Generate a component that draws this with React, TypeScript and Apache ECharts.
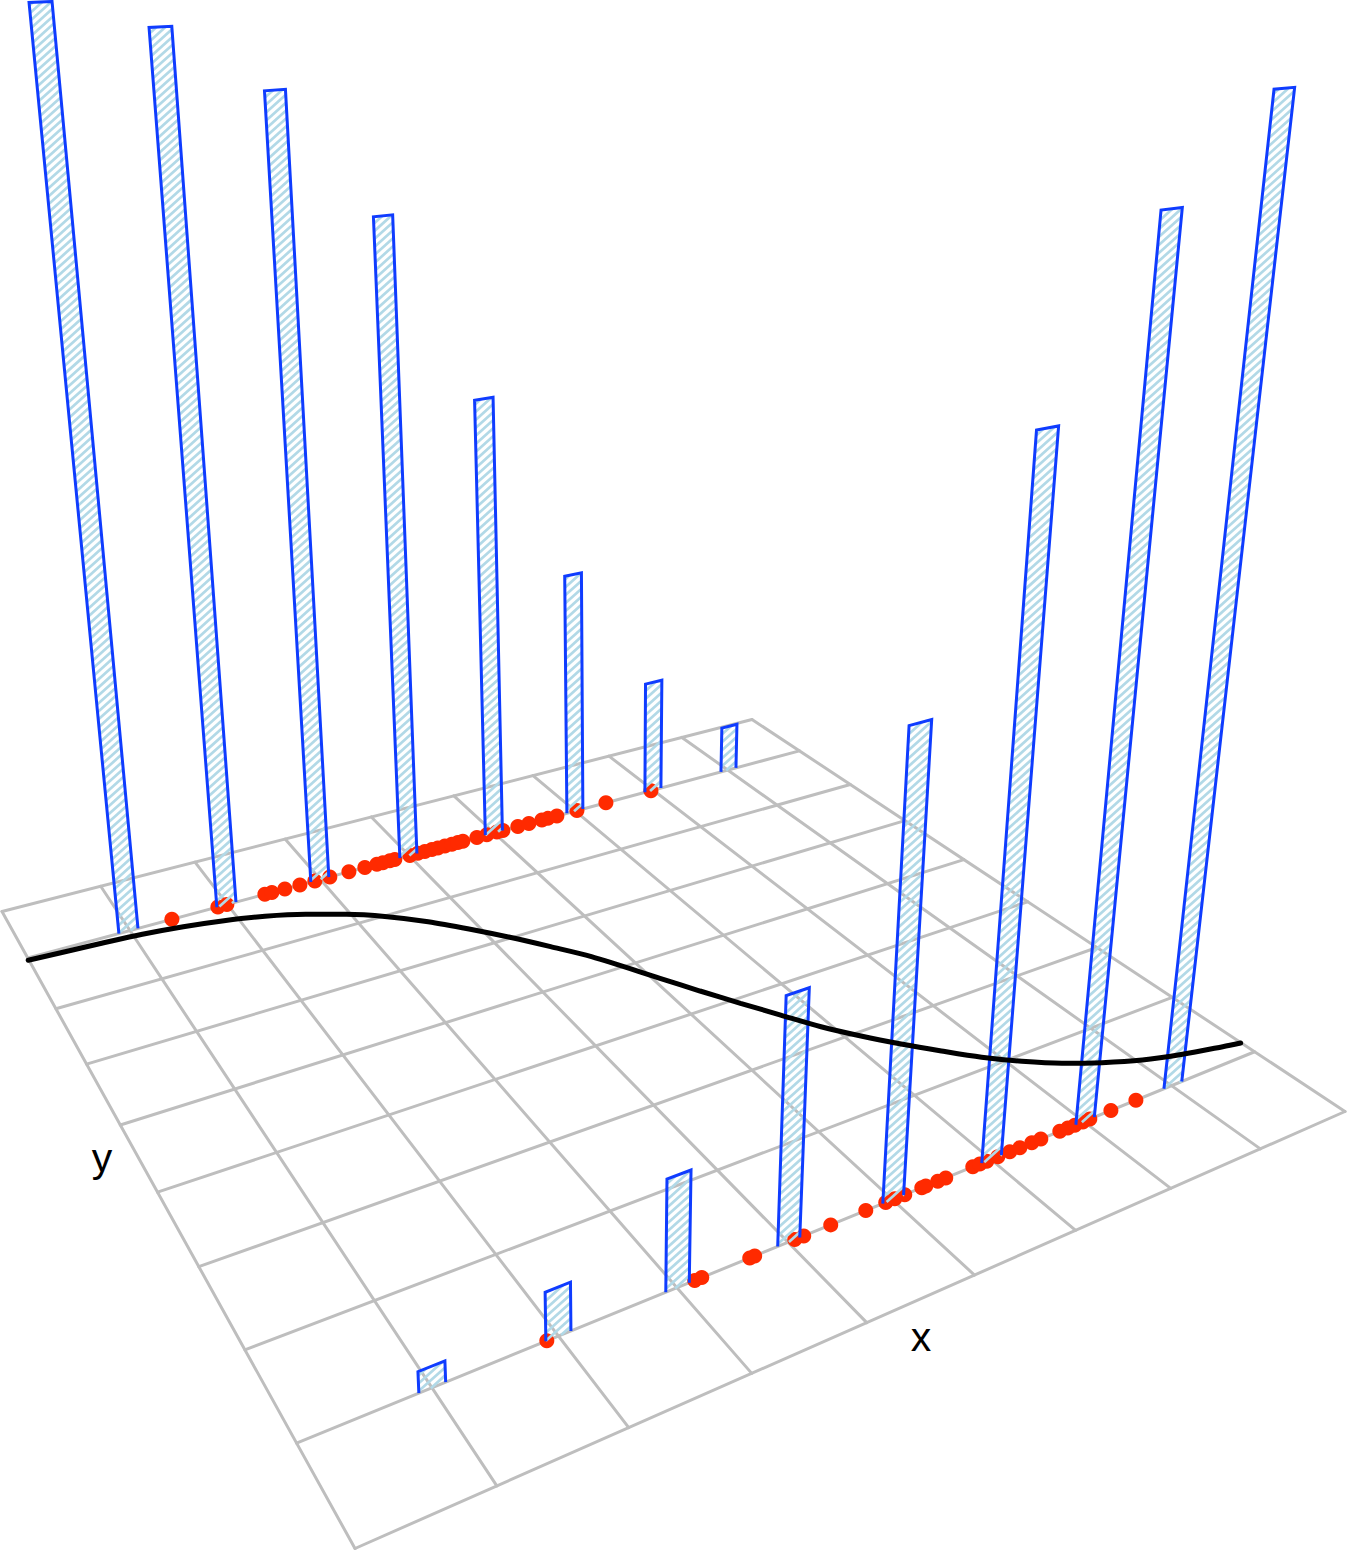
import React, { useEffect, useRef } from "react";
import * as echarts from "echarts";

// ---- data, in floor units (0..9) and bar heights ----
const gridTicks = [0, 1, 2, 3, 4, 5, 6, 7, 8, 9];
const backRow = 8;
const frontRow = 1;
const backBarLeft = [0.889, 1.889, 2.895, 3.893, 4.895, 5.894, 6.892, 7.907];
const backBarRight = [1.08, 2.09, 3.093, 4.089, 5.1, 6.095, 7.102, 8.112];
const backBarHeight = [0.954, 0.927, 0.8625, 0.7305, 0.523, 0.3005, 0.143, 0.0595];
const frontBarLeft = [0.9, 1.897, 2.903, 3.904, 4.904, 5.904, 6.912, 7.911];
const frontBarRight = [1.105, 2.102, 3.108, 4.109, 5.109, 6.109, 7.117, 8.12];
const frontBarHeight = [0.02, 0.0466, 0.1086, 0.2396, 0.4467, 0.6686, 0.8265, 0.91];
const backDots = [1.424, 1.9, 1.994, 2.397, 2.472, 2.612, 2.775, 2.939, 3.104, 3.316, 3.495, 3.631, 3.699, 3.778, 3.835, 4.008, 4.1, 4.181, 4.263, 4.333, 4.415, 4.497, 4.568, 4.627, 4.794, 4.913, 5.034, 5.106, 5.288, 5.423, 5.583, 5.657, 5.769, 6.02, 6.388, 6.971];
const frontDots = [1.905, 3.156, 3.218, 3.648, 3.693, 4.062, 4.146, 4.401, 4.738, 4.933, 5.022, 5.121, 5.291, 5.331, 5.452, 5.533, 5.811, 5.883, 5.956, 6.072, 6.198, 6.305, 6.433, 6.53, 6.736, 6.824, 6.901, 6.989, 7.067, 7.303, 7.587];
const curveX = [-0.007, 0.3, 0.69, 1.084, 1.477, 1.863, 2.245, 2.61, 2.963, 3.296, 3.608, 3.897, 4.174, 4.437, 4.691, 5.064, 5.275, 5.488, 5.7, 5.909, 6.134, 6.368, 6.611, 6.857, 7.123, 7.408, 7.718, 8.052, 8.42, 8.814, 8.995];
const curveY = [7.957, 7.936, 7.907, 7.871, 7.807, 7.715, 7.591, 7.423, 7.219, 6.972, 6.681, 6.354, 6.014, 5.663, 5.307, 4.653, 4.281, 3.921, 3.577, 3.24, 2.941, 2.662, 2.397, 2.145, 1.921, 1.722, 1.553, 1.405, 1.291, 1.197, 1.158];

// ---- camera: floor corners on the page and the vertical vanishing point ----
const [x0, y0, x1, y1, x2, y2, x3, y3] = [355, 1548.5, 1345, 1111.5, 752, 719.5, 2, 911.5];
const VP = [615, 6073];
const K = -0.25;
const dx1 = x1 - x2, dx2 = x3 - x2, sx = x0 - x1 + x2 - x3;
const dy1 = y1 - y2, dy2 = y3 - y2, sy = y0 - y1 + y2 - y3;
const det = dx1 * dy2 - dx2 * dy1;
const g = (sx * dy2 - dx2 * sy) / det, h = (dx1 * sy - sx * dy1) / det;
const a = x1 - x0 + g * x1, b = x3 - x0 + h * x3, d = y1 - y0 + g * y1, e = y3 - y0 + h * y3;

function project(u: number, v: number, z = 0): [number, number] {
  const s = u / 9, t = v / 9;
  const X = a * s + b * t + x0 + z * K * VP[0];
  const Y = d * s + e * t + y0 + z * K * VP[1];
  const W = g * s + h * t + 1 + z * K;
  return [X / W, Y / W];
}

const BLUE = "#0f3cff", RED = "#ff2a00", GREY = "#bebebe", HATCH = "#b2d9e7";
const HATCH_SLOPE = 0.9, HATCH_PERIOD = 8, HATCH_WIDTH = 2.7;

function hatchSegments(p: number[][]) {
  const cs = p.map(q => q[1] + HATCH_SLOPE * q[0]);
  const segs: number[][][] = [];
  const lo = Math.ceil(Math.min(...cs) / HATCH_PERIOD), hi = Math.floor(Math.max(...cs) / HATCH_PERIOD);
  for (let n = lo; n <= hi; n++) {
    const c = n * HATCH_PERIOD, hits: number[][] = [];
    for (let i = 0; i < p.length; i++) {
      const A = p[i], B = p[(i + 1) % p.length], ca = cs[i], cb = cs[(i + 1) % p.length];
      if ((ca - c) * (cb - c) <= 0 && ca !== cb) {
        const k = (c - ca) / (cb - ca);
        hits.push([A[0] + k * (B[0] - A[0]), A[1] + k * (B[1] - A[1])]);
      }
    }
    if (hits.length >= 2) segs.push([hits[0], hits[hits.length - 1]]);
  }
  return segs;
}

const barSeries = (row: number, left: number[], right: number[], height: number[]) => ({
  type: "custom", coordinateSystem: "cartesian2d", silent: true, clip: false,
  data: left.map((l, i) => [l, right[i], height[i]]),
  renderItem: (_p: any, api: any) => {
    const l = api.value(0), r = api.value(1), z = api.value(2);
    const pts = [project(l, row), project(l, row, z), project(r, row, z), project(r, row)].map(q => api.coord(q));
    const children: any[] = hatchSegments(pts).map(s => ({
      type: "line", shape: { x1: s[0][0], y1: s[0][1], x2: s[1][0], y2: s[1][1] },
      style: { stroke: HATCH, lineWidth: HATCH_WIDTH, fill: null },
    }));
    children.push({ type: "polyline", shape: { points: pts }, style: { stroke: BLUE, lineWidth: 3, fill: null, lineJoin: "miter" } });
    return { type: "group", children };
  },
});

const dotSeries = (row: number, xs: number[]) => ({
  type: "custom", coordinateSystem: "cartesian2d", silent: true, clip: false,
  data: xs.map(x => [x]),
  renderItem: (_p: any, api: any) => {
    const c = api.coord(project(api.value(0), row));
    return { type: "circle", shape: { cx: c[0], cy: c[1], r: 7.5 }, style: { fill: RED, stroke: null } };
  },
});

const floorSeries = {
  type: "custom", coordinateSystem: "cartesian2d", silent: true, clip: false,
  data: gridTicks.map(t => [t]),
  renderItem: (_p: any, api: any) => {
    const t = api.value(0);
    const seg = (A: [number, number], B: [number, number]) => {
      const p = api.coord(A), q = api.coord(B);
      return { type: "line", shape: { x1: p[0], y1: p[1], x2: q[0], y2: q[1] }, style: { stroke: GREY, lineWidth: 3, fill: null, lineCap: "round" } };
    };
    return { type: "group", children: [seg(project(t, 0), project(t, 9)), seg(project(0, t), project(9, t))] };
  },
};

const curveSeries = {
  type: "line", silent: true, clip: false, smooth: 0.3, symbol: "none", animation: false,
  data: curveX.map((x, i) => project(x, curveY[i])),
  lineStyle: { color: "#000", width: 5, cap: "round" },
};

export default function App() {
  const ref = useRef<HTMLDivElement>(null);
  useEffect(() => {
    const chart = echarts.init(ref.current!, undefined, { renderer: "svg" });
    chart.setOption({
      animation: false,
      backgroundColor: "#fff",
      tooltip: { show: false },
      grid: { left: 0, right: 0, top: 0, bottom: 0 },
      xAxis: { type: "value", min: 0, max: 1347, show: false },
      yAxis: { type: "value", min: 0, max: 1550, inverse: true, show: false },
      graphic: [
        { type: "text", x: 921, y: 1337, z: 10, style: { text: "x", font: "41px 'Liberation Sans'", fill: "#000", textAlign: "center", textVerticalAlign: "middle" } },
        { type: "text", x: 102, y: 1158, z: 10, style: { text: "y", font: "41px 'Liberation Sans'", fill: "#000", textAlign: "center", textVerticalAlign: "middle" } },
      ],
      series: [
        floorSeries,
        dotSeries(backRow, backDots),
        barSeries(backRow, backBarLeft, backBarRight, backBarHeight),
        curveSeries,
        dotSeries(frontRow, frontDots),
        barSeries(frontRow, frontBarLeft, frontBarRight, frontBarHeight),
      ],
    });
    return () => chart.dispose();
  }, []);
  return <div ref={ref} style={{ position: "absolute", left: 0, top: 0, width: 1347, height: 1550 }} />;
}
